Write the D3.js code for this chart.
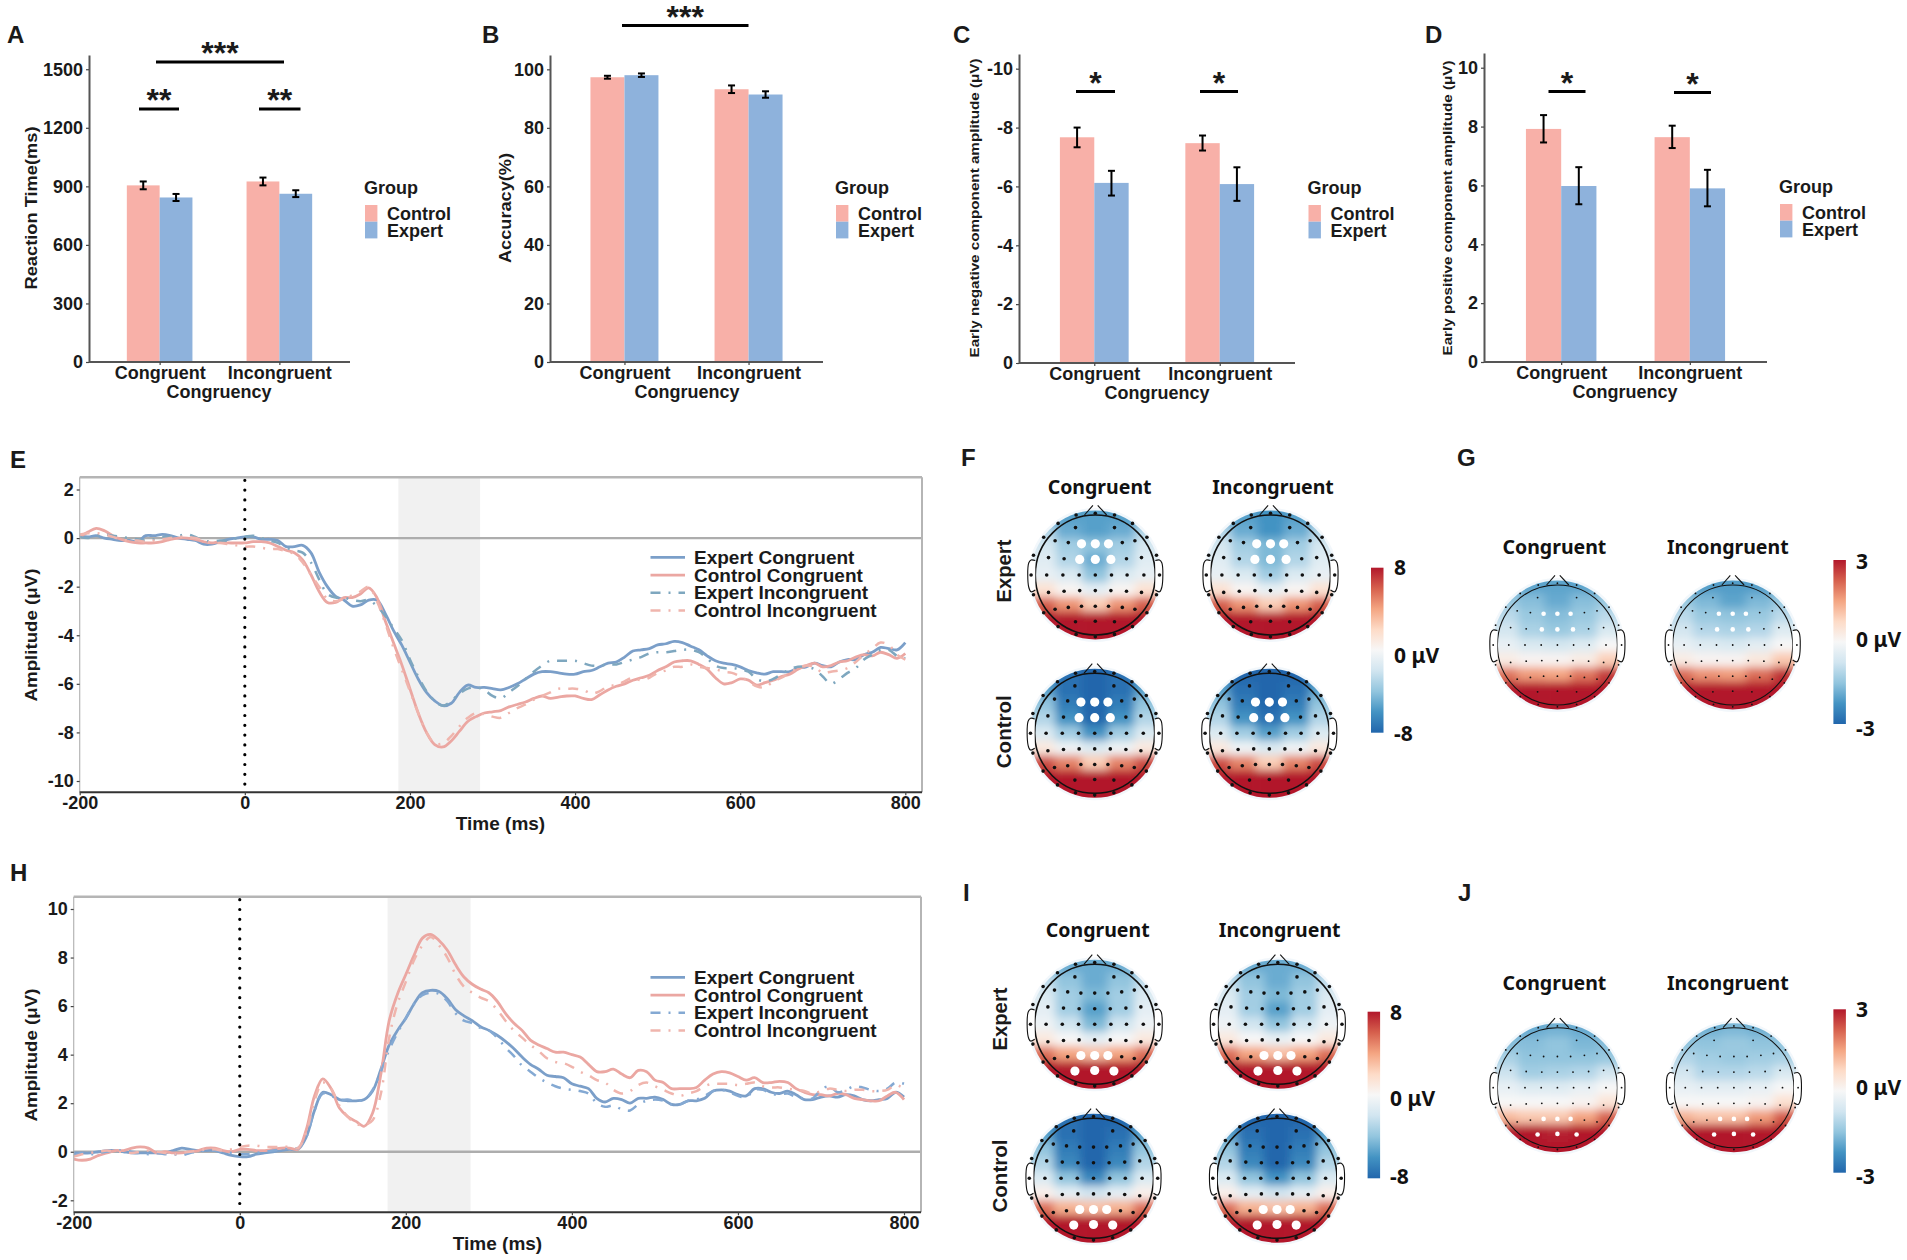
<!DOCTYPE html>
<html>
<head>
<meta charset="utf-8">
<script src="https://cdn.jsdelivr.net/npm/d3@7"></script>
<style>
  body { margin: 0; background: #fff; }
  text { font-family: "Liberation Sans", Arial, sans-serif; fill: #1a1a1a; }
  .bold { font-weight: bold; }
  .topo-text { font-family: "Noto Sans", sans-serif; font-weight: bold; fill: #111; }
</style>
</head>
<body>
<svg id="chart" width="1907" height="1260"></svg>
<script>
const congruency = ["Congruent", "Incongruent"];
const groups = ["Control", "Expert"];

// bar means and error limits: [congruent, incongruent]
const rtControl = [905, 925];
const rtExpert = [843, 862];
const rtControlErr = [[885, 925], [905, 945]];
const rtExpertErr = [[825, 861], [845, 880]];
const accControl = [97.3, 93.2];
const accExpert = [98.0, 91.4];
const accControlErr = [[96.8, 97.8], [91.9, 94.5]];
const accExpertErr = [[97.4, 98.6], [90.3, 92.5]];
const encControl = [-7.67, -7.47];
const encExpert = [-6.12, -6.08];
const encControlErr = [[-7.33, -8.0], [-7.22, -7.73]];
const encExpertErr = [[-5.69, -6.53], [-5.51, -6.65]];
const eposControl = [7.92, 7.64];
const eposExpert = [5.98, 5.9];
const eposControlErr = [[7.46, 8.39], [7.27, 8.03]];
const eposExpertErr = [[5.36, 6.62], [5.29, 6.53]];

const erpTime = [-200,-190,-180,-170,-160,-150,-140,-130,-120,-110,-100,-90,-80,-70,-60,-50,-40,-30,-20,-10,0,10,20,30,40,50,60,70,80,90,100,110,120,130,140,150,160,170,180,190,200,210,220,230,240,250,260,270,280,290,300,310,320,330,340,350,360,370,380,390,400,410,420,430,440,450,460,470,480,490,500,510,520,530,540,550,560,570,580,590,600,610,620,630,640,650,660,670,680,690,700,710,720,730,740,750,760,770,780,790,800];

const eExpertCong = [0.1,0.05,0.1,0,-0.05,-0.1,-0.1,-0.15,0.1,0.1,0.15,0.1,0,-0.05,-0.1,-0.25,-0.25,-0.15,-0.05,0,0.05,0.05,-0.05,-0.05,-0.1,-0.35,-0.35,-0.3,-0.6,-1.4,-2,-2.4,-2.55,-2.8,-2.75,-2.55,-2.55,-3.1,-3.8,-4.4,-5.1,-5.8,-6.35,-6.7,-6.9,-6.8,-6.35,-6.05,-6.15,-6.15,-6.2,-6.25,-6.15,-6,-5.8,-5.6,-5.5,-5.5,-5.55,-5.6,-5.6,-5.5,-5.45,-5.3,-5.15,-5.1,-4.9,-4.65,-4.6,-4.55,-4.4,-4.35,-4.25,-4.3,-4.45,-4.6,-4.85,-5.05,-5.15,-5.2,-5.3,-5.45,-5.55,-5.6,-5.5,-5.5,-5.5,-5.35,-5.3,-5.15,-5.25,-5.3,-5.1,-5,-5,-4.8,-4.7,-4.5,-4.55,-4.6,-4.3];
const eControlCong = [0.05,0.25,0.4,0.3,0.1,-0.05,-0.15,-0.2,-0.2,-0.2,-0.15,-0.05,0,0,-0.05,-0.15,-0.2,-0.15,-0.2,-0.2,-0.2,-0.15,-0.15,-0.2,-0.35,-0.5,-0.6,-0.9,-1.5,-2.2,-2.65,-2.65,-2.45,-2.45,-2.3,-2.05,-2.45,-3.4,-4.3,-5.2,-6.2,-7.2,-8,-8.5,-8.6,-8.35,-7.95,-7.55,-7.35,-7.2,-7.15,-7.1,-6.95,-6.85,-6.75,-6.6,-6.5,-6.6,-6.55,-6.5,-6.5,-6.6,-6.65,-6.45,-6.25,-6.1,-6,-5.85,-5.75,-5.65,-5.45,-5.3,-5.1,-5.05,-5.05,-5.2,-5.4,-5.75,-6,-5.95,-5.8,-5.85,-6.05,-5.95,-5.85,-5.7,-5.6,-5.4,-5.25,-5.15,-5.3,-5.25,-5.1,-5.05,-4.9,-4.8,-4.85,-4.7,-4.8,-4.95,-4.75];
const eExpertIncong = [0.05,0,0.1,0.15,0.1,0.05,0,-0.05,-0.1,-0.05,0.05,0.05,0.1,0.15,0.05,-0.1,-0.15,-0.1,-0.1,0,0.05,0.1,0,-0.1,-0.2,-0.4,-0.5,-0.6,-1,-1.7,-2.3,-2.45,-2.45,-2.55,-2.6,-2.55,-2.8,-3.2,-3.7,-4.2,-5,-5.7,-6.3,-6.7,-6.9,-6.7,-6.4,-6.2,-6.15,-6.25,-6.5,-6.6,-6.35,-6.1,-5.8,-5.5,-5.25,-5.05,-5.05,-5.05,-5.05,-5.15,-5.25,-5.25,-5.2,-5.2,-5.1,-5,-4.9,-4.75,-4.7,-4.7,-4.65,-4.6,-4.6,-4.7,-4.95,-5.25,-5.35,-5.35,-5.4,-5.5,-5.8,-5.9,-5.8,-5.6,-5.4,-5.3,-5.3,-5.4,-5.7,-6,-5.8,-5.55,-5.35,-5,-4.8,-4.6,-4.6,-4.85,-4.95];
const eControlIncong = [0.15,0.2,0.2,0.15,0.05,-0.05,-0.1,-0.1,-0.15,-0.1,-0.05,0,0.05,0.05,0,-0.1,-0.2,-0.2,-0.25,-0.3,-0.35,-0.35,-0.4,-0.45,-0.45,-0.55,-0.65,-1,-1.5,-2,-2.5,-2.6,-2.5,-2.35,-2.2,-2,-2.6,-3.5,-4.5,-5.4,-6.3,-7.2,-8,-8.45,-8.45,-8.15,-7.75,-7.4,-7.2,-7.25,-7.35,-7.4,-7.2,-7,-6.85,-6.65,-6.5,-6.35,-6.2,-6.2,-6.2,-6.25,-6.4,-6.3,-6.1,-6.05,-5.9,-5.75,-5.85,-5.75,-5.55,-5.45,-5.3,-5.3,-5.2,-5.3,-5.35,-5.4,-5.5,-5.55,-5.7,-5.9,-6.1,-6.15,-5.9,-5.75,-5.55,-5.35,-5.25,-5.3,-5.55,-5.5,-5.45,-5.35,-5.1,-4.8,-4.55,-4.3,-4.4,-4.8,-5];

const hExpertCong = [-0.05,-0.05,-0.05,0,0.05,0.05,0,-0.05,-0.05,-0.05,-0.05,-0.05,0.05,0.15,0.1,0.05,0.05,0.05,-0.05,-0.15,-0.2,-0.2,-0.1,-0.05,0,0.05,0.1,0.1,0.6,1.7,2.45,2.35,2.15,2.1,2.1,2.15,2.5,3.4,4.4,5,5.5,6.1,6.55,6.65,6.6,6.3,5.85,5.6,5.4,5.15,5,4.8,4.55,4.25,3.9,3.6,3.4,3.15,3.1,3.05,2.8,2.7,2.6,2.2,2.05,2.2,2.15,2,2.2,2.2,2.25,2.15,1.95,1.95,2.1,2.1,2.2,2.5,2.55,2.5,2.35,2.3,2.6,2.6,2.45,2.4,2.5,2.35,2.15,2.15,2.25,2.3,2.25,2.35,2.3,2.15,2.1,2.15,2.2,2.45,2.25];
const hControlCong = [-0.3,-0.35,-0.3,-0.15,-0.05,0.05,0.05,0.15,0.2,0.15,-0.05,0,-0.05,-0.05,0,0.05,0.15,0.15,0.05,0,0.1,0.1,0.05,0.05,0.1,0.15,0.15,0.1,0.9,2.3,3,2.6,1.8,1.45,1.25,1.05,1.6,3.2,5.4,6.5,7.3,8.1,8.8,8.95,8.7,8.3,7.7,7.2,6.9,6.7,6.55,6.2,5.7,5.3,5,4.6,4.4,4.25,4.1,4.1,4,3.9,3.6,3.3,3.3,3.4,3.2,3.05,3.35,3.3,2.95,2.85,2.6,2.6,2.6,2.65,2.95,3.2,3.3,3.25,3.1,2.95,3.05,2.85,2.85,2.9,2.85,2.6,2.45,2.35,2.35,2.3,2.4,2.35,2.2,2.15,2.1,2.1,2.3,2.45,2.15];
const hExpertIncong = [-0.15,-0.05,-0.1,-0.05,0,0.05,0.05,0,-0.05,-0.1,-0.05,-0.1,-0.1,-0.15,-0.05,0,0.05,0.05,0,-0.05,-0.1,-0.1,-0.05,0,0.05,0.1,0.15,0.15,0.6,1.7,2.4,2.3,2.15,2.15,2.1,2.15,2.55,3.3,4.2,4.9,5.5,6.1,6.45,6.55,6.5,6.2,5.7,5.4,5.3,5.1,5,4.7,4.3,3.95,3.55,3.3,3.05,2.85,2.7,2.6,2.55,2.5,2.4,2,1.85,1.9,1.75,1.7,1.95,2.1,2.15,2.1,1.95,1.95,2.1,2.15,2.3,2.5,2.55,2.45,2.3,2.25,2.55,2.55,2.4,2.35,2.4,2.25,2.2,2.2,2.55,2.7,2.45,2.55,2.7,2.65,2.55,2.5,2.6,2.85,2.8];
const hControlIncong = [-0.2,-0.1,-0.05,0,0.05,0,0,-0.05,0,0.05,0,-0.05,-0.1,-0.05,0,0.05,0.1,0.1,0.05,0.1,0.2,0.25,0.25,0.2,0.2,0.2,0.2,0.15,0.8,2.1,2.85,2.6,1.9,1.45,1.15,1.1,1.3,2.4,4.7,6.1,7,7.9,8.5,8.85,8.5,8,7.3,6.8,6.55,6.35,6.2,5.85,5.4,5,4.7,4.4,4.15,3.85,3.7,3.65,3.5,3.3,3.15,2.95,2.85,2.55,2.4,2.5,2.75,2.85,2.7,2.55,2.4,2.3,2.4,2.5,2.7,2.8,2.8,2.8,2.75,2.8,2.85,2.7,2.65,2.65,2.6,2.55,2.5,2.4,2.5,2.6,2.55,2.5,2.55,2.55,2.5,2.5,2.55,2.75,2.6];

// scalp values read by eye on a coarse grid (rows front to back, columns left to right)
const fExpertCong = [[-5,-5.5,-5.5,-5.5,-5],[-3,-5,-5.5,-5,-3],[-1.8,-3.5,-4,-3.5,-1.8],[-1.2,-3,-5,-3,-1.2],[-0.8,-1.5,-4,-1.5,-0.8],[1.5,0.2,-1,0.2,1.5],[6,4.5,2.5,4.5,6],[8,8,8,8,8],[8,8,8,8,8]];
const fExpertIncong = [[-5,-5.5,-6,-5.5,-5],[-3,-5,-6,-5,-3],[-1.8,-3.5,-4.5,-3.5,-1.8],[-1.2,-3,-4.5,-3,-1.2],[-0.8,-1.5,-3.5,-1.5,-0.8],[1.5,0.2,-0.8,0.2,1.5],[6,4.5,2.5,4.5,6],[8,8,8,8,8],[8,8,8,8,8]];
const fControlCong = [[-6.5,-7.5,-8,-7.5,-6.5],[-5.5,-7.5,-8,-7.5,-5.5],[-4,-7,-8,-7,-4],[-3,-6,-8,-6,-3],[-1.5,-3.5,-6,-3.5,-1.5],[1,-0.5,-1.5,-0.5,1],[6.5,5,2.5,5,6.5],[8,8,8,8,8],[8,8,8,8,8]];
const fControlIncong = [[-6.5,-8,-8,-8,-6.5],[-5.5,-7.5,-8,-7.5,-5.5],[-4,-7,-8,-7,-4],[-3,-6,-7.5,-6,-3],[-1.5,-3.5,-5.5,-3.5,-1.5],[1,-0.5,-1.5,-0.5,1],[6.5,5,2.5,5,6.5],[8,8,8,8,8],[8,8,8,8,8]];
const gCong = [[-1.9,-2,-2,-2,-1.9],[-1.4,-1.6,-1.9,-1.6,-1.4],[-1,-1.4,-1.6,-1.4,-1],[-0.7,-1.2,-1.4,-1.2,-0.6],[-0.3,-0.6,-0.7,-0.5,0],[0.3,0.1,0.1,0.3,0.9],[2,1.6,1.5,2,2.6],[3,3,3,3,3],[3,3,3,3,3]];
const gIncong = [[-2,-2.1,-2.1,-2.1,-2],[-1.4,-1.7,-2,-1.7,-1.4],[-1,-1.4,-1.5,-1.4,-1],[-0.7,-1.1,-1.2,-1.1,-0.5],[-0.3,-0.5,-0.6,-0.4,0],[0.3,0.1,0.1,0.4,1],[2.1,1.7,1.6,2.1,2.7],[3,3,3,3,3],[3,3,3,3,3]];
const iExpertCong = [[-4.5,-5,-5,-5,-4.5],[-2.5,-4,-5,-4,-2.5],[-1.5,-3.5,-4.5,-3.5,-1.5],[-1,-3.5,-5.5,-3.5,-1],[-0.5,-2,-4.5,-2,-0.5],[1,0,-1,0,1],[5.5,4,3,4,5.5],[8,8,8,8,8],[8,8,8,8,8]];
const iExpertIncong = [[-4.5,-5,-5,-5,-4.5],[-2.5,-4,-5,-4,-2.5],[-1.5,-3.5,-4.5,-3.5,-1.5],[-1,-3.5,-5.5,-3.5,-1],[-0.5,-2,-4,-2,-0.5],[1,0,-0.8,0,1],[5.5,4,3,4,5.5],[8,8,8,8,8],[8,8,8,8,8]];
const iControlCong = [[-6.5,-7.5,-8,-8,-6.5],[-5.5,-7.5,-8,-7.5,-5.5],[-4,-7,-8,-7,-4],[-3,-6.5,-8,-6.5,-3],[-1.5,-4,-6.5,-4,-1.5],[0.5,-1,-2,-1,0.5],[5.5,3.5,3,3.5,5.5],[8,8,8,8,8],[8,8,8,8,8]];
const iControlIncong = [[-6.5,-8,-8,-8,-6.5],[-5.5,-7.5,-8,-7.5,-5.5],[-4,-7,-8,-7,-4],[-3,-6.5,-8,-6.5,-3],[-1.5,-4,-6,-4,-1.5],[0.5,-1,-2,-1,0.5],[5.5,3.5,3,3.5,5.5],[8,8,8,8,8],[8,8,8,8,8]];
const jCong = [[-1.9,-1.9,-1.8,-1.9,-1.9],[-1.6,-1.6,-1.5,-1.7,-1.6],[-1.2,-1.5,-1.5,-1.5,-1.4],[-0.8,-1.3,-1.2,-1.1,-0.7],[-0.3,-0.5,-0.5,-0.3,0],[0,0,0,0.1,0.5],[1.2,1,1,1.5,2.2],[3,3,2.9,3,3],[3,3,3,3,3]];
const jIncong = [[-1.9,-1.8,-1.7,-1.8,-1.9],[-1.5,-1.5,-1.4,-1.5,-1.5],[-1.1,-1.3,-1.4,-1.3,-1.2],[-0.7,-1.1,-1.1,-1,-0.6],[-0.3,-0.4,-0.4,-0.3,0],[0,0,0,0.1,0.6],[1.3,1.1,1.1,1.6,2.3],[3,3,3,3,3],[3,3,3,3,3]];

// electrode montage in head radius units, [x, y]
const electrodes = [[-0.32,-1],[0,-1.03],[0.32,-1],[-0.62,-0.86],[0.62,-0.86],[-0.33,-0.79],[0.32,-0.79],
  [-0.86,-0.63],[-0.67,-0.57],[-0.45,-0.54],[-0.23,-0.52],[0,-0.52],[0.22,-0.52],[0.45,-0.54],[0.66,-0.57],[0.86,-0.63],
  [-1.03,-0.33],[-0.78,-0.29],[-0.52,-0.27],[-0.26,-0.26],[0,-0.26],[0.26,-0.26],[0.52,-0.27],[0.77,-0.29],[1.02,-0.33],
  [-1.07,0],[-0.81,0],[-0.54,0],[-0.27,0],[0,0],[0.27,0],[0.53,0],[0.81,0],[1.07,0],
  [-1.03,0.33],[-0.78,0.29],[-0.52,0.27],[-0.26,0.26],[0,0.26],[0.26,0.26],[0.52,0.27],[0.77,0.29],[1.02,0.33],
  [-0.86,0.63],[-0.67,0.57],[-0.45,0.54],[-0.23,0.52],[0,0.52],[0.22,0.52],[0.45,0.54],[0.66,0.57],[0.86,0.63],
  [-0.62,0.86],[-0.33,0.78],[0,0.77],[0.32,0.78],[0.62,0.86],[-0.32,0.99],[0,1.03],[0.32,0.99]];
const frontalSites = [10, 11, 12, 19, 20, 21];
const parietalSites = [46, 47, 48, 53, 54, 55];
const noseOutline = [[-0.18,-1],[-0.04,-1.16]];
const noseOutlineRight = [[0.04,-1.16],[0.19,-1]];
const earOutline = [[-1,-0.24],[-1.07,-0.25],[-1.11,-0.2],[-1.11,0.2],[-1.07,0.28],[-1,0.25]];

const rdbuStops = ["#2166ac", "#4393c3", "#92c5de", "#d1e5f0", "#f7f7f7", "#fddbc7", "#f4a582", "#d6604d", "#b2182b"];

const colors = { Control: "#f8b0a8", Expert: "#8eb2dc" };
const lineBlue = "#7b9fc9";
const linePink = "#eba7a2";

const svg = d3.select("#chart");
svg.append("rect").attr("width", 1907).attr("height", 1260).attr("fill", "#fff");
const defs = svg.append("defs");
defs.append("filter").attr("id", "soft")
  .attr("x", "-20%").attr("y", "-20%").attr("width", "140%").attr("height", "140%")
  .append("feGaussianBlur").attr("stdDeviation", 4.5);

function label(text, x, y, size = 18, opts = {}) {
  const t = svg.append("text")
    .attr("x", x).attr("y", y).attr("dy", ".35em")
    .attr("font-size", size)
    .attr("text-anchor", opts.anchor || "start")
    .attr("class", opts.cls || "bold")
    .text(text);
  if (opts.rotate) {
    t.attr("transform", `rotate(-90, ${x}, ${y})`).attr("text-anchor", "middle");
  }
  if (opts.length) {
    t.attr("textLength", opts.length).attr("lengthAdjust", "spacingAndGlyphs");
  }
  return t;
}

function styleAxis(g, color = "#555") {
  g.selectAll(".domain").attr("stroke", color).attr("stroke-width", 2);
  g.selectAll(".tick line").attr("stroke", "#444").attr("stroke-width", 1.2);
  g.selectAll(".tick text").attr("font-size", 18).attr("class", "bold").attr("fill", "#1a1a1a");
}

function drawBarPanel(p) {
  const x0 = d3.scalePoint().domain(congruency).range([p.left, p.right]).padding(p.padding);
  const barW = x0.step() * 0.274;
  const x1 = d3.scaleBand().domain(groups).range([-barW, barW]);
  const y = d3.scaleLinear().domain(p.domain).range([p.y0, p.top]);
  const g = svg.append("g");

  const rows = [];
  congruency.forEach((c, i) => {
    rows.push({ c, group: "Control", v: p.control[i], err: p.controlErr[i] });
    rows.push({ c, group: "Expert", v: p.expert[i], err: p.expertErr[i] });
  });

  g.selectAll(".bar").data(rows).enter().append("rect")
    .attr("x", (d) => x0(d.c) + x1(d.group))
    .attr("width", x1.bandwidth())
    .attr("y", (d) => Math.min(y(d.v), y(0)))
    .attr("height", (d) => Math.abs(y(d.v) - y(0)))
    .attr("fill", (d) => colors[d.group]);

  const cx = (d) => x0(d.c) + x1(d.group) + x1.bandwidth() / 2;
  const err = g.selectAll(".err").data(rows).enter().append("g").attr("stroke", "#000").attr("stroke-width", 2);
  err.append("line").attr("x1", cx).attr("x2", cx).attr("y1", (d) => y(d.err[0])).attr("y2", (d) => y(d.err[1]));
  d3.range(2).forEach((k) => {
    err.append("line")
      .attr("x1", (d) => cx(d) - 3.5).attr("x2", (d) => cx(d) + 3.5)
      .attr("y1", (d) => y(d.err[k])).attr("y2", (d) => y(d.err[k]));
  });

  const yAxis = g.append("g").attr("transform", `translate(${p.left},0)`)
    .call(d3.axisLeft(y).tickValues(p.ticks).tickFormat((d) => String(d)).tickSize(3).tickPadding(3).tickSizeOuter(0));
  styleAxis(yAxis);
  const xAxis = g.append("g").attr("transform", `translate(0,${p.y0})`)
    .call(d3.axisBottom(x0).tickSize(3).tickPadding(1).tickSizeOuter(0));
  styleAxis(xAxis);
  xAxis.select(".domain").attr("d", `M${p.left},0H${p.right}`);

  (p.sig || []).forEach((s) => {
    g.append("line").attr("x1", s.x1).attr("x2", s.x2).attr("y1", s.y).attr("y2", s.y)
      .attr("stroke", "#000").attr("stroke-width", 2.8);
    g.append("text").attr("x", (s.x1 + s.x2) / 2).attr("y", s.y + 2)
      .attr("text-anchor", "middle").attr("font-size", 32).attr("class", "bold").attr("fill", "#000").text(s.label);
  });

  label("Congruency", p.xTitle, p.y0 + 30, 18, { anchor: "middle" });
  label(p.yTitle, p.yTitleX, 208, p.yTitleSize, { rotate: true, length: p.yTitleLen });

  const lg = p.legend;
  label("Group", lg.x - 1, lg.y - 17, 18);
  groups.forEach((name, i) => {
    svg.append("rect").attr("x", lg.x).attr("y", lg.y + i * 16.7).attr("width", 12.4).attr("height", 16.7).attr("fill", colors[name]);
    label(name, lg.x + 22, lg.y + 8.4 + i * 17.4, 18);
  });
  label(p.tag, p.tagX, 35, 24);
}

function drawErpPanel(p) {
  const x = d3.scaleLinear().domain([-200, 800]).range([p.x200, p.x800]);
  const y = d3.scaleLinear().domain(p.yDomain).range([p.yRange[0], p.yRange[1]]);
  const g = svg.append("g");

  g.append("rect").attr("x", x(p.window[0])).attr("width", x(p.window[1]) - x(p.window[0]))
    .attr("y", p.top).attr("height", p.bottom - p.top).attr("fill", "#f1f1f1");
  g.append("line").attr("x1", p.left).attr("x2", p.right).attr("y1", y(0)).attr("y2", y(0))
    .attr("stroke", "#adadad").attr("stroke-width", 2.4);

  const line = (vals) => d3.line().x((d, i) => x(erpTime[i])).y((d) => y(d)).curve(d3.curveCatmullRom.alpha(0.5))(vals);

  p.series.forEach((s) => {
    g.append("path").attr("d", line(s.values)).attr("fill", "none")
      .attr("stroke", s.color).attr("stroke-width", s.dash ? 2.5 : 2.8)
      .attr("stroke-dasharray", s.dash || null).attr("stroke-linejoin", "round");
  });

  g.append("line").attr("x1", x(0)).attr("x2", x(0)).attr("y1", p.top + 3).attr("y2", p.bottom - 6)
    .attr("stroke", "#000").attr("stroke-width", 3.2).attr("stroke-linecap", "round").attr("stroke-dasharray", "0 9.8");

  const frame = [[p.left, p.top, p.right, p.top, 2.4], [p.right, p.top, p.right, p.bottom, 2], [p.left, p.top, p.left, p.bottom, 1.2]];
  frame.forEach((f) => {
    g.append("line").attr("x1", f[0]).attr("y1", f[1]).attr("x2", f[2]).attr("y2", f[3])
      .attr("stroke", "#b5b5b5").attr("stroke-width", f[4]);
  });
  g.append("line").attr("x1", p.left).attr("x2", p.right).attr("y1", p.bottom).attr("y2", p.bottom)
    .attr("stroke", "#333").attr("stroke-width", 2);

  const xAxis = g.append("g").attr("transform", `translate(0,${p.bottom})`)
    .call(d3.axisBottom(x).tickValues([-200, 0, 200, 400, 600, 800]).tickFormat((d) => String(d)).tickSize(3).tickPadding(1));
  styleAxis(xAxis);
  xAxis.select(".domain").remove();
  const yAxis = g.append("g").attr("transform", `translate(${p.left},0)`)
    .call(d3.axisLeft(y).tickValues(p.yTicks).tickFormat((d) => String(d)).tickSize(3).tickPadding(3));
  styleAxis(yAxis);
  yAxis.select(".domain").remove();

  label("Time (ms)", p.xTitle, p.bottom + 31, 19, { anchor: "middle" });
  label("Amplitude (μV)", 31, p.yTitleY, 17, { rotate: true, length: 133 });

  p.series.forEach((s, i) => {
    const ly = p.legendY + i * 17.75;
    svg.append("line").attr("x1", 650.5).attr("x2", 685).attr("y1", ly).attr("y2", ly)
      .attr("stroke", s.color).attr("stroke-width", s.dash ? 2.5 : 2.8).attr("stroke-dasharray", s.dash || null);
    label(s.name, 694, ly, 19);
  });
  label(p.tag, 10, p.tagY, 24);
}

function drawTopo(o) {
  const r = 60;
  const unit = d3.scaleLinear().domain([-1, 1]).range([-r, r]);
  const limit = o.limit;
  const color = d3.scaleLinear().domain(d3.quantize(d3.interpolate(-limit, limit), 9)).range(rdbuStops).clamp(true);
  const g = svg.append("g").attr("transform", `translate(${o.cx},${o.cy})`);
  const clipId = `clip-${o.id}`;
  defs.append("clipPath").attr("id", clipId).append("circle").attr("r", r + 4.5);

  g.append("circle").attr("r", r + 7).attr("fill", "#e9f2f9").attr("opacity", 0.6);

  const rowsN = o.values.length;
  const colsN = o.values[0].length;
  const rowBand = d3.scaleBand().domain(d3.range(rowsN)).range([unit(-1.1), unit(1.1)]);
  const colBand = d3.scaleBand().domain(d3.range(colsN)).range([unit(-1.1), unit(1.1)]);
  const cells = g.append("g").attr("clip-path", `url(#${clipId})`)
    .append("g").attr("filter", "url(#soft)");
  // outer rows and columns run on past the head so the blur keeps its colour at the rim
  const bleed = 25;
  o.values.forEach((row, i) => {
    const top = rowBand(i) - (i === 0 ? bleed : 0);
    const bottom = rowBand(i) + rowBand.bandwidth() + (i === rowsN - 1 ? bleed : 0.5);
    cells.selectAll(null).data(row).enter().append("rect")
      .attr("x", (d, j) => colBand(j) - (j === 0 ? bleed : 0))
      .attr("y", top)
      .attr("width", (d, j) => colBand.bandwidth() + (j === 0 || j === colsN - 1 ? bleed : 0.5))
      .attr("height", bottom - top)
      .attr("fill", (d) => color(d));
  });

  const outline = d3.line().x((d) => unit(d[0])).y((d) => unit(d[1]));
  g.append("circle").attr("r", r).attr("fill", "none").attr("stroke", "#111").attr("stroke-width", o.small ? 1.1 : 1.6);
  [noseOutline, noseOutlineRight].forEach((n) => {
    g.append("path").attr("d", outline(n)).attr("fill", "none").attr("stroke", "#111").attr("stroke-width", 1.1);
  });
  const ear = d3.line().x((d) => unit(d[0])).y((d) => unit(d[1])).curve(d3.curveCatmullRom);
  g.append("path").attr("d", ear(earOutline)).attr("fill", "#fff").attr("stroke", "#111").attr("stroke-width", 1.1);
  g.append("path").attr("d", ear(earOutline.map((d) => [-d[0], d[1]]))).attr("fill", "#fff").attr("stroke", "#111").attr("stroke-width", 1.1);

  g.selectAll(".el").data(electrodes).enter().append("circle")
    .attr("cx", (d) => unit(d[0])).attr("cy", (d) => unit(d[1]))
    .attr("r", (d, i) => (o.marked.includes(i) ? (o.small ? 2.3 : 4.6) : (o.small ? 0.9 : 1.8)))
    .attr("fill", (d, i) => (o.marked.includes(i) ? "#fff" : "#111"));
}

function drawColorbar(b) {
  const id = `grad-${b.id}`;
  const grad = defs.append("linearGradient").attr("id", id).attr("x1", 0).attr("x2", 0).attr("y1", 1).attr("y2", 0);
  rdbuStops.forEach((c, i) => {
    grad.append("stop").attr("offset", i / (rdbuStops.length - 1)).attr("stop-color", c);
  });
  svg.append("rect").attr("x", b.x).attr("y", b.top).attr("width", 12.5).attr("height", b.bottom - b.top).attr("fill", `url(#${id})`);
  label(String(b.limit), b.textX, b.labels[0], 21, { cls: "topo-text" });
  label("0 μV", b.textX, b.labels[1], 21, { cls: "topo-text" });
  label(`-${b.limit}`, b.textX, b.labels[2], 21, { cls: "topo-text" });
}

drawBarPanel({
  tag: "A", tagX: 7, left: 89, right: 350, padding: 0.59, y0: 362, top: 55, domain: [0, 1573],
  ticks: [0, 300, 600, 900, 1200, 1500], control: rtControl, expert: rtExpert, controlErr: rtControlErr, expertErr: rtExpertErr,
  xTitle: 219, yTitle: "Reaction Time(ms)", yTitleX: 31.5, yTitleSize: 16, yTitleLen: 163,
  legend: { x: 365, y: 205 },
  sig: [{ x1: 156, x2: 284, y: 62, label: "***" }, { x1: 139, x2: 179, y: 109, label: "**" }, { x1: 259, x2: 300.5, y: 109, label: "**" }],
});
drawBarPanel({
  tag: "B", tagX: 482, left: 550, right: 823, padding: 0.6, y0: 362, top: 55, domain: [0, 104.9],
  ticks: [0, 20, 40, 60, 80, 100], control: accControl, expert: accExpert, controlErr: accControlErr, expertErr: accExpertErr,
  xTitle: 687, yTitle: "Accuracy(%)", yTitleX: 505, yTitleSize: 16, yTitleLen: 110,
  legend: { x: 836, y: 205 },
  sig: [{ x1: 622, x2: 748.5, y: 25.5, label: "***" }],
});
drawBarPanel({
  tag: "C", tagX: 953, left: 1019, right: 1295, padding: 0.6, y0: 363, top: 54, domain: [0, -10.5],
  ticks: [0, -2, -4, -6, -8, -10], control: encControl, expert: encExpert, controlErr: encControlErr, expertErr: encExpertErr,
  xTitle: 1157, yTitle: "Early negative component amplitude (μV)", yTitleX: 974.5, yTitleSize: 13, yTitleLen: 299,
  legend: { x: 1308.5, y: 205 },
  sig: [{ x1: 1076, x2: 1115, y: 91.5, label: "*" }, { x1: 1200, x2: 1238, y: 91.5, label: "*" }],
});
drawBarPanel({
  tag: "D", tagX: 1425, left: 1484, right: 1767, padding: 0.6, y0: 362, top: 53, domain: [0, 10.5],
  ticks: [0, 2, 4, 6, 8, 10], control: eposControl, expert: eposExpert, controlErr: eposControlErr, expertErr: eposExpertErr,
  xTitle: 1625, yTitle: "Early positive component amplitude (μV)", yTitleX: 1447, yTitleSize: 13, yTitleLen: 295,
  legend: { x: 1780, y: 204 },
  sig: [{ x1: 1548.5, x2: 1585.5, y: 91.5, label: "*" }, { x1: 1674, x2: 1711, y: 92.5, label: "*" }],
});

const dashDot = "10 8 2 8";
drawErpPanel({
  tag: "E", tagY: 460, left: 79.7, right: 922, top: 477.3, bottom: 792.3, x200: 79.7, x800: 905.3,
  yDomain: [-10, 2], yRange: [781, 489.5], yTicks: [-10, -8, -6, -4, -2, 0, 2], window: [186, 285],
  xTitle: 500.5, yTitleY: 635, legendY: 557.3,
  series: [
    { name: "Expert Congruent", values: eExpertCong, color: lineBlue },
    { name: "Control Congruent", values: eControlCong, color: linePink },
    { name: "Expert Incongruent", values: eExpertIncong, color: "#7ea7bf", dash: dashDot },
    { name: "Control Incongruent", values: eControlIncong, color: "#f0b5ad", dash: dashDot },
  ],
});
drawErpPanel({
  tag: "H", tagY: 873, left: 73.7, right: 921, top: 896.7, bottom: 1212.3, x200: 73.7, x800: 904,
  yDomain: [-2, 10], yRange: [1200.3, 909], yTicks: [-2, 0, 2, 4, 6, 8, 10], window: [178, 278],
  xTitle: 497.5, yTitleY: 1055, legendY: 977.3,
  series: [
    { name: "Expert Congruent", values: hExpertCong, color: lineBlue },
    { name: "Control Congruent", values: hControlCong, color: linePink },
    { name: "Expert Incongruent", values: hExpertIncong, color: "#84a9d3", dash: dashDot },
    { name: "Control Incongruent", values: hControlIncong, color: "#f0b5ad", dash: dashDot },
  ],
});

const topoMaps = [
  { id: "f1", cx: 1095.3, cy: 575, values: fExpertCong, limit: 8, marked: frontalSites },
  { id: "f2", cx: 1270.5, cy: 575, values: fExpertIncong, limit: 8, marked: frontalSites },
  { id: "f3", cx: 1094.7, cy: 733.3, values: fControlCong, limit: 8, marked: frontalSites },
  { id: "f4", cx: 1269.3, cy: 733.3, values: fControlIncong, limit: 8, marked: frontalSites },
  { id: "g1", cx: 1557.4, cy: 645, values: gCong, limit: 3, marked: frontalSites, small: true },
  { id: "g2", cx: 1732.7, cy: 645, values: gIncong, limit: 3, marked: frontalSites, small: true },
  { id: "i1", cx: 1094.7, cy: 1024.3, values: iExpertCong, limit: 8, marked: parietalSites },
  { id: "i2", cx: 1277.8, cy: 1024.3, values: iExpertIncong, limit: 8, marked: parietalSites },
  { id: "i3", cx: 1093.5, cy: 1178.3, values: iControlCong, limit: 8, marked: parietalSites },
  { id: "i4", cx: 1277, cy: 1178.3, values: iControlIncong, limit: 8, marked: parietalSites },
  { id: "j1", cx: 1557.4, cy: 1087.7, values: jCong, limit: 3, marked: parietalSites, small: true },
  { id: "j2", cx: 1733.9, cy: 1087.7, values: jIncong, limit: 3, marked: parietalSites, small: true },
];
topoMaps.forEach(drawTopo);

drawColorbar({ id: "f", x: 1371, top: 567.7, bottom: 732.7, limit: 8, textX: 1394, labels: [568, 655.7, 734] });
drawColorbar({ id: "g", x: 1833.4, top: 560, bottom: 724, limit: 3, textX: 1856, labels: [562, 640, 729] });
drawColorbar({ id: "i", x: 1367.6, top: 1011.7, bottom: 1178.3, limit: 8, textX: 1390, labels: [1013, 1099, 1177] });
drawColorbar({ id: "j", x: 1833.4, top: 1009.3, bottom: 1172.7, limit: 3, textX: 1856, labels: [1010, 1088, 1177] });

const topoTitles = [
  ["Congruent", 1099.6, 486.7], ["Incongruent", 1273, 486.7],
  ["Congruent", 1554.4, 546.7], ["Incongruent", 1727.8, 546.7],
  ["Congruent", 1097.7, 930], ["Incongruent", 1279.7, 930],
  ["Congruent", 1554.4, 983], ["Incongruent", 1727.8, 983],
];
topoTitles.forEach((t) => label(t[0], t[1], t[2], 19.5, { anchor: "middle", cls: "topo-text" }));

label("Expert", 1003.7, 571, 21, { rotate: true, length: 63 });
label("Control", 1003.7, 731.7, 21, { rotate: true, length: 73 });
label("Expert", 1000, 1019, 21, { rotate: true, length: 63 });
label("Control", 1000, 1176, 21, { rotate: true, length: 73 });

label("F", 961, 458, 24);
label("G", 1457, 458, 24);
label("I", 963, 893, 24);
label("J", 1458, 893, 24);
</script>
</body>
</html>
